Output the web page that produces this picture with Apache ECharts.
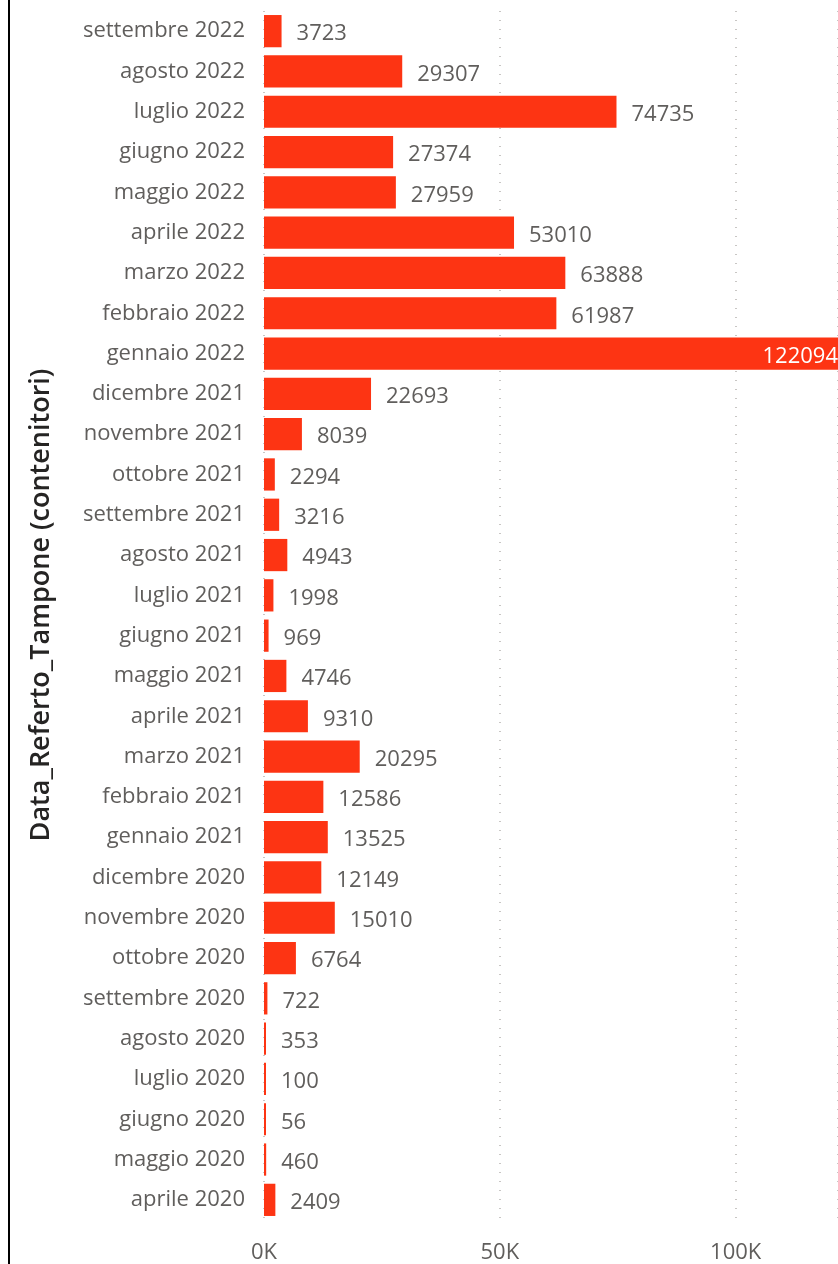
<!DOCTYPE html>
<html>
<head>
<meta charset="utf-8">
<script src="https://cdn.jsdelivr.net/npm/echarts@6/dist/echarts.min.js"></script>
<style>
  html, body { margin: 0; padding: 0; background: #fff; }
  #chart { width: 838px; height: 1264px; }
</style>
</head>
<body>
<div id="chart"></div>
<script>
// months, bottom to top
var months = [
  'aprile 2020', 'maggio 2020', 'giugno 2020', 'luglio 2020', 'agosto 2020',
  'settembre 2020', 'ottobre 2020', 'novembre 2020', 'dicembre 2020',
  'gennaio 2021', 'febbraio 2021', 'marzo 2021', 'aprile 2021', 'maggio 2021',
  'giugno 2021', 'luglio 2021', 'agosto 2021', 'settembre 2021', 'ottobre 2021',
  'novembre 2021', 'dicembre 2021', 'gennaio 2022', 'febbraio 2022',
  'marzo 2022', 'aprile 2022', 'maggio 2022', 'giugno 2022', 'luglio 2022',
  'agosto 2022', 'settembre 2022'
];
var counts = [
  2409, 460, 56, 100, 353,
  722, 6764, 15010, 12149,
  13525, 12586, 20295, 9310, 4746,
  969, 1998, 4943, 3216, 2294,
  8039, 22693, 122094, 61987,
  63888, 53010, 27959, 27374, 74735,
  29307, 3723
];
var xTicks = [0, 50000, 100000];
var axisTitle = 'Data_Referto_Tampone (contenitori)';

var font = "'Open Sans', 'Noto Sans', sans-serif";
var textGray = '#605E5C';
var barColor = '#FD3413';
var xMax = 121700;

var seriesData = counts.map(function (v) {
  if (v > xMax * 0.9) {
    return {
      value: v,
      label: { position: 'insideRight', color: '#fff', distance: 0, offset: [0, 3] }
    };
  }
  return v;
});

var chart = echarts.init(document.getElementById('chart'));
chart.setOption({
  animation: false,
  graphic: [{
    type: 'rect',
    shape: { x: 8, y: 0, width: 2, height: 1264 },
    style: { fill: '#000' }
  }, {
    type: 'text',
    x: 41,
    y: 605,
    rotation: Math.PI / 2,
    style: {
      text: axisTitle,
      fill: '#252423',
      font: "600 27px 'Open Sans', sans-serif",
      align: 'center',
      verticalAlign: 'middle'
    }
  }],
  grid: {
    left: 264,
    right: 0,
    top: 11,
    bottom: 44,
    containLabel: false
  },
  xAxis: {
    type: 'value',
    min: 0,
    max: xMax,
    interval: 50000,
    axisLine: { show: false },
    axisTick: { show: false },
    axisLabel: {
      showMaxLabel: false,
      color: textGray,
      fontFamily: font,
      fontSize: 22,
      margin: 22,
      formatter: function (v) {
        return xTicks.indexOf(v) >= 0 ? (v / 1000) + 'K' : '';
      }
    },
    splitLine: {
      show: true,
      lineStyle: { color: '#C8C6C4', type: [1, 8], width: 2 }
    }
  },
  yAxis: {
    type: 'category',
    data: months,
    axisLine: { show: false },
    axisTick: { show: false },
    axisLabel: {
      color: textGray,
      fontFamily: font,
      fontSize: 22,
      margin: 19
    }
  },
  series: [{
    type: 'bar',
    data: seriesData,
    barCategoryGap: '20%',
    barMinHeight: 2,
    itemStyle: { color: barColor },
    label: {
      show: true,
      position: 'right',
      distance: 15,
      offset: [0, 3],
      color: textGray,
      fontFamily: font,
      fontSize: 22
    }
  }]
});
</script>
</body>
</html>
